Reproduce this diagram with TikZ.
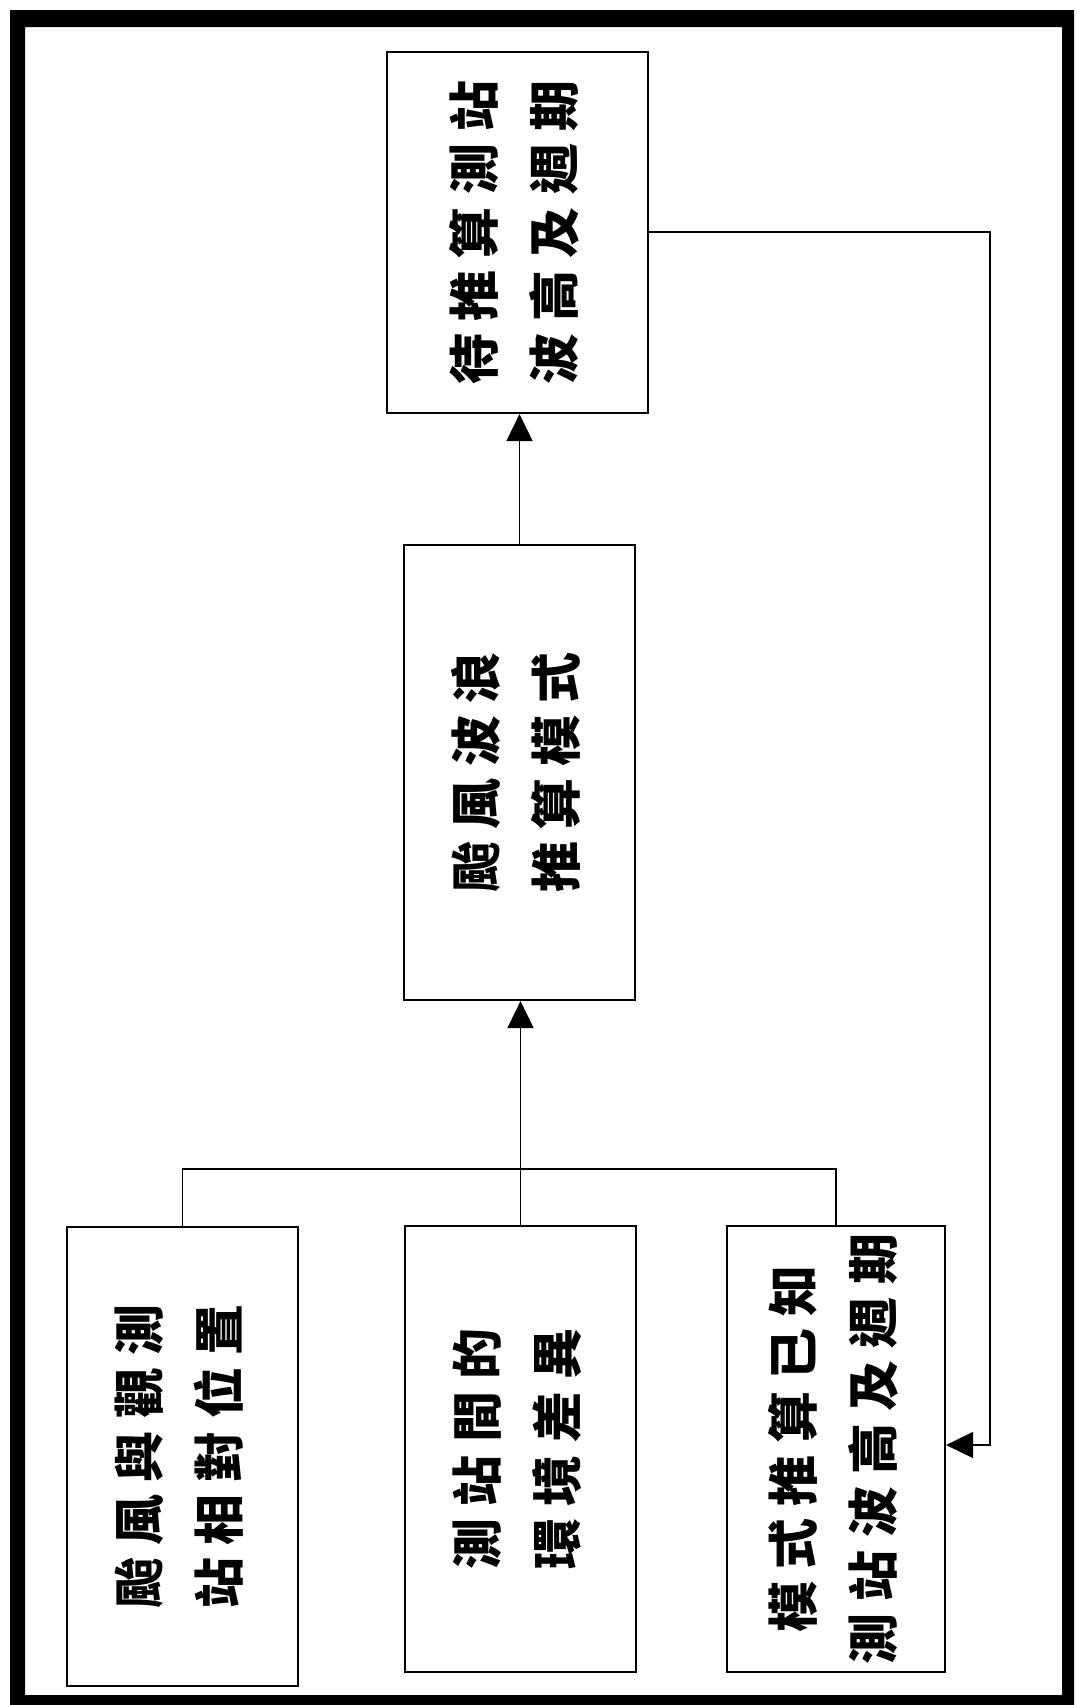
\documentclass[tikz,border=0pt]{standalone}
\usepackage{fontspec}
\newfontfamily\cjk[LetterSpace=24]{Noto Sans CJK TC}
\usetikzlibrary{arrows.meta}
\newcommand{\vtext}[2]{\rotatebox{90}{\cjk\bfseries\fontsize{51}{80}\selectfont\begin{tabular}{@{}c@{}}#1\\#2\end{tabular}}}
\tikzset{
  box/.style={draw, line width=2.2pt, inner sep=0pt, align=center},
  conn/.style={line width=1.8pt},
  arr/.style={conn, -{Triangle[length=27pt,width=26pt]}}
}
\begin{document}
\begin{tikzpicture}[x=1pt,y=-1pt]
\useasboundingbox (0,0) rectangle (1076,1705);
\fill[black, even odd rule] (10,10) rectangle (1074,1705) (25,27) rectangle (1062,1695);

\node[box, minimum width=261pt, minimum height=361pt] (target) at (517.5,232.5) {\vtext{待推算測站}{波高及週期}};
\node[box, minimum width=231pt, minimum height=455pt] (model) at (519.5,772.5) {\vtext{颱風波浪}{推算模式}};
\node[box, minimum width=231pt, minimum height=459pt] (b1) at (182.5,1456.5) {\vtext{颱風與觀測}{站相對位置}};
\node[box, minimum width=231pt, minimum height=446pt] (b2) at (520.5,1449) {\vtext{測站間的}{環境差異}};
\node[box, minimum width=218pt, minimum height=446pt] (b3) at (836,1449) {\vtext{模式推算已知}{測站波高及週期}};

\coordinate (bus) at (520,1169);
\coordinate (loopr) at (990,232);
\draw[conn] (b1.north) |- (bus) -| (b3.north);
\draw[arr] (b2.north) -- (b2.north |- model.south);
\draw[arr] (model.north) -- (model.north |- target.south);
\draw[arr] (target.east |- loopr) -- (loopr) |- (b3.east |- 0,1445);
\end{tikzpicture}
\end{document}
